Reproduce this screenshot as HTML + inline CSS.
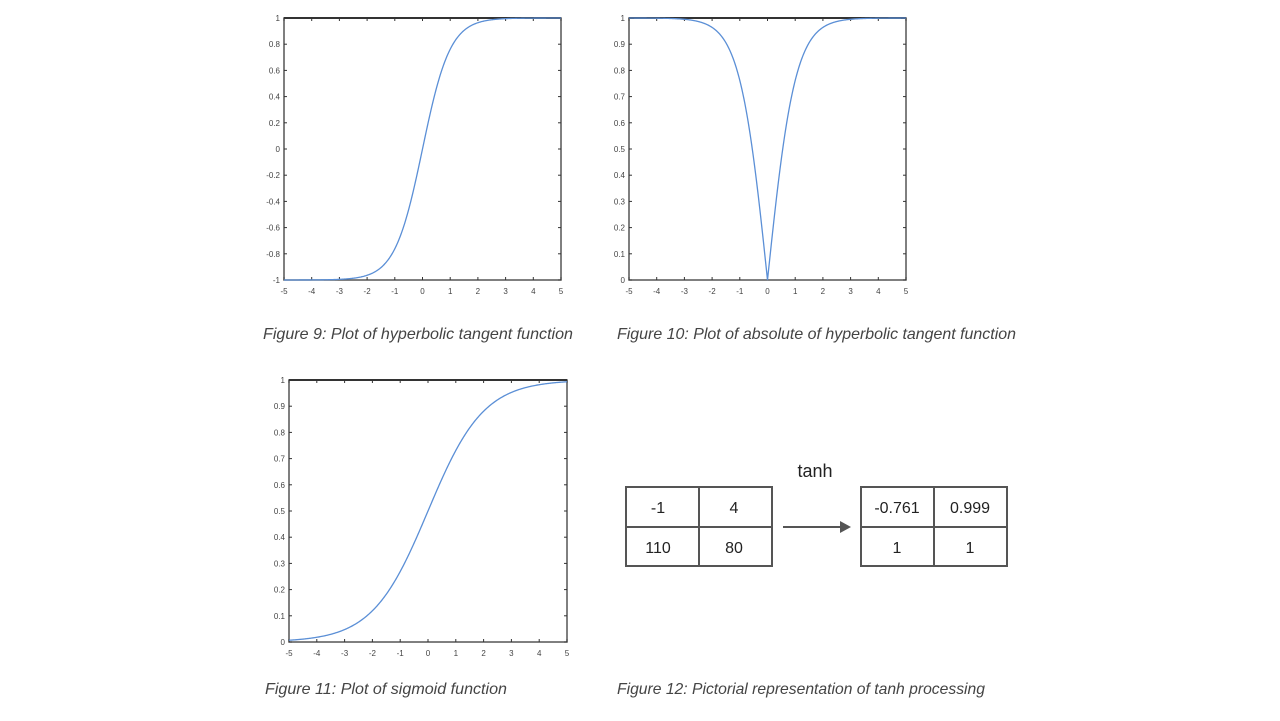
<!DOCTYPE html>
<html><head><meta charset="utf-8"><style>
body{margin:0;background:#fff;}
svg{display:block;font-family:"Liberation Sans",sans-serif;}
.t{font-size:8px;fill:#444;}
.cap{font-size:15.8px;font-style:italic;fill:#444;}
.cell{font-size:16px;fill:#222;}
</style></head><body>
<svg id="s" width="1280" height="721" viewBox="0 0 1280 721" xmlns="http://www.w3.org/2000/svg">
<g id="plots"></g>
<text class="cap" x="263" y="339" textLength="310" lengthAdjust="spacingAndGlyphs">Figure 9: Plot of hyperbolic tangent function</text>
<text class="cap" x="617" y="339" textLength="399" lengthAdjust="spacingAndGlyphs">Figure 10: Plot of absolute of hyperbolic tangent function</text>
<text class="cap" x="265" y="694" textLength="242" lengthAdjust="spacingAndGlyphs">Figure 11: Plot of sigmoid function</text>
<text class="cap" x="617" y="694" textLength="368" lengthAdjust="spacingAndGlyphs">Figure 12: Pictorial representation of tanh processing</text>
<g stroke="#555" stroke-width="2" fill="none">
<rect x="626" y="487" width="146" height="79"/><line x1="699" y1="487" x2="699" y2="566"/><line x1="626" y1="527" x2="772" y2="527"/>
<rect x="861" y="487" width="146" height="79"/><line x1="934" y1="487" x2="934" y2="566"/><line x1="861" y1="527" x2="1007" y2="527"/>
<line x1="783" y1="527" x2="842" y2="527"/>
</g>
<polygon points="840,521 851,527 840,533" fill="#555"/>
<text x="815" y="477" text-anchor="middle" style="font-size:18px;fill:#222">tanh</text>
<g class="cell" text-anchor="middle">
<text x="658" y="513">-1</text><text x="734" y="513">4</text>
<text x="658" y="553">110</text><text x="734" y="553">80</text>
<text x="897" y="513">-0.761</text><text x="970" y="513">0.999</text>
<text x="897" y="553">1</text><text x="970" y="553">1</text>
</g>
</svg>
<script>
var g=document.getElementById('plots'),NS='http://www.w3.org/2000/svg';
function el(n,a,t){var e=document.createElementNS(NS,n);for(var k in a)e.setAttribute(k,a[k]);if(t!=null)e.textContent=t;g.appendChild(e);return e;}
function plot(x0,y0,x1,y1,ymin,ymax,yt,ylab,f){
 el('rect',{x:x0,y:y0,width:x1-x0,height:y1-y0,fill:'none',stroke:'#555','stroke-width':1.5});
 el('line',{x1:x0,y1:y0,x2:x1,y2:y0,stroke:'#333','stroke-width':2});
 for(var i=-5;i<=5;i++){var x=x0+(i+5)/10*(x1-x0);
  el('line',{x1:x,y1:y1,x2:x,y2:y1-3,stroke:'#333'});el('line',{x1:x,y1:y0,x2:x,y2:y0+3,stroke:'#333'});
  el('text',{x:x,y:y1+14,'class':'t','text-anchor':'middle'},String(i));}
 for(var j=0;j<yt.length;j++){var y=y1-(yt[j]-ymin)/(ymax-ymin)*(y1-y0);
  el('line',{x1:x0,y1:y,x2:x0+3,y2:y,stroke:'#333'});el('line',{x1:x1,y1:y,x2:x1-3,y2:y,stroke:'#333'});
  el('text',{x:x0-4,y:y+3,'class':'t','text-anchor':'end'},ylab[j]);}
 var d='';for(var k=0;k<=400;k++){var xv=-5+k/40,yv=f(xv);
  d+=(k?'L':'M')+(x0+(xv+5)/10*(x1-x0)).toFixed(2)+','+(y1-(yv-ymin)/(ymax-ymin)*(y1-y0)).toFixed(2);}
 el('path',{d:d,fill:'none',stroke:'#5b8fd6','stroke-width':1.3});
}
var t1=[-1,-0.8,-0.6,-0.4,-0.2,0,0.2,0.4,0.6,0.8,1],l1=['-1','-0.8','-0.6','-0.4','-0.2','0','0.2','0.4','0.6','0.8','1'];
plot(284,18,561,280,-1,1,t1,l1,Math.tanh);
var t2=[0,0.1,0.2,0.3,0.4,0.5,0.6,0.7,0.8,0.9,1],l2=['0','0.1','0.2','0.3','0.4','0.5','0.6','0.7','0.8','0.9','1'];
plot(629,18,906,280,0,1,t2,l2,function(x){return Math.abs(Math.tanh(x));});
plot(289,380,567,642,0,1,t2,l2,function(x){return 1/(1+Math.exp(-x));});
</script>
</body></html>
